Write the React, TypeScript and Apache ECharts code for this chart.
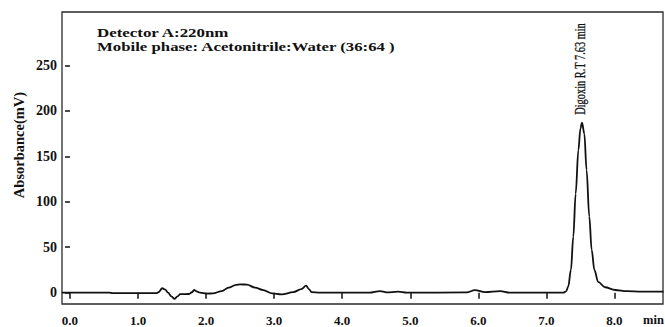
import React, { useEffect, useRef } from "react";
import * as echarts from "echarts";

// Retention time (min)
const times = [
  -0.12, 0.58, 0.62, 1.27, 1.3, 1.356, 1.4, 1.44, 1.49, 1.535, 1.58, 1.62,
  1.75, 1.79, 1.825, 1.86, 1.91, 2.01, 2.1, 2.23, 2.33, 2.44, 2.5, 2.6,
  2.72, 2.84, 2.97, 3.11, 3.28, 3.4, 3.47, 3.51, 3.55, 3.67, 4.4, 4.555,
  4.65, 4.82, 4.95, 5.83, 5.95, 6.1, 6.32, 6.46, 7.25, 7.29, 7.32, 7.36,
  7.395, 7.43, 7.47, 7.5, 7.523, 7.557, 7.59, 7.63, 7.665, 7.705, 7.76,
  7.86, 8.01, 8.18, 8.4, 8.72,
];
// Absorbance (mV)
const absorbance = [
  0, 0, -0.4, -0.4, 0.5, 4.9, 3.5, 0, -4, -6.8, -4, -1.5,
  -1.4, 0.5, 3, 1.5, 0, -1, -0.7, 1.8, 5.5, 8.7, 9.1, 9.0,
  5.5, 2.9, -0.7, -1.8, 0.6, 4, 7.7, 4, 0.6, 0, 0, 1.8,
  0.4, 1.1, 0, 0.4, 2.9, 0.7, 1.8, 0, 0, 1.5, 6.6, 25,
  61.6, 109, 157, 180.7, 187, 175, 135, 83.6, 47, 25, 12,
  6, 3, 1.8, 1.3, 1.2,
];
const xTicks = [0, 1, 2, 3, 4, 5, 6, 7, 8];
const yTicks = [0, 50, 100, 150, 200, 250];

const detectorText = "Detector A:220nm";
const phaseText = "Mobile phase: Acetonitrile:Water (36:64 )";
const peakText = "Digoxin R.T 7.63 min";
const yTitle = "Absorbance(mV)";
const xTitle = "min";

const SERIF = "'Liberation Serif', 'Times New Roman', serif";

export default function App() {
  const ref = useRef<HTMLDivElement>(null);
  useEffect(() => {
    document.body.style.margin = "0";
    if (!ref.current) return;
    const chart = echarts.init(ref.current, undefined, { renderer: "svg" });
    chart.setOption({
      animation: false,
      backgroundColor: "#ffffff",
      grid: {
        left: 62,
        top: 12,
        right: 2,
        bottom: 23,
        show: true,
        borderColor: "#2a2a2a",
        borderWidth: 1.3,
        backgroundColor: "transparent",
      },
      xAxis: {
        type: "value",
        min: -0.1175,
        max: 8.713,
        offset: 2,
        axisLine: { show: false },
        axisTick: {
          show: true,
          customValues: xTicks,
          length: 6,
          inside: false,
          lineStyle: { color: "#111", width: 1.5 },
        },
        axisLabel: {
          customValues: xTicks,
          formatter: (v: number) => v.toFixed(1),
          margin: 8,
          fontFamily: SERIF,
          fontWeight: "bold",
          fontSize: 13,
          color: "#111",
        },
        splitLine: { show: false },
      },
      yAxis: {
        type: "value",
        min: -12.4,
        max: 308.6,
        axisLine: { show: false },
        axisTick: {
          show: true,
          customValues: yTicks,
          length: 5,
          inside: false,
          lineStyle: { color: "#111", width: 1.5 },
        },
        axisLabel: {
          customValues: yTicks,
          margin: 5,
          fontFamily: SERIF,
          fontWeight: "bold",
          fontSize: 14,
          color: "#111",
        },
        splitLine: { show: false },
      },
      series: [
        {
          type: "line",
          data: times.map((t, i) => [t, absorbance[i]]),
          showSymbol: false,
          symbol: "none",
          smooth: 0.35,
          smoothMonotone: "x",
          lineStyle: { color: "#111", width: 1.8 },
          silent: true,
        },
      ],
      graphic: [
        {
          type: "text",
          x: 97,
          y: 26.5,
          scaleX: 1.3,
          style: {
            text: detectorText,
            font: `bold 13px ${SERIF}`,
            fill: "#111",
            verticalAlign: "top",
            align: "left",
          },
        },
        {
          type: "text",
          x: 97,
          y: 40,
          scaleX: 1.29,
          style: {
            text: phaseText,
            font: `bold 13px ${SERIF}`,
            fill: "#111",
            verticalAlign: "top",
            align: "left",
          },
        },
        {
          type: "text",
          x: 580,
          y: 69,
          rotation: Math.PI / 2,
          scaleX: 0.69,
          style: {
            text: peakText,
            font: `15px ${SERIF}`,
            fill: "#111",
            stroke: "#111",
            lineWidth: 0.3,
            verticalAlign: "middle",
            align: "center",
          },
        },
        {
          type: "text",
          x: 19,
          y: 145,
          rotation: Math.PI / 2,
          style: {
            text: yTitle,
            font: `bold 14.5px ${SERIF}`,
            fill: "#111",
            verticalAlign: "middle",
            align: "center",
          },
        },
        {
          type: "text",
          x: 643,
          y: 320,
          style: {
            text: xTitle,
            font: `bold 12.5px ${SERIF}`,
            fill: "#111",
            verticalAlign: "middle",
            align: "left",
          },
        },
      ],
    });
    return () => chart.dispose();
  }, []);
  return (
    <div
      ref={ref}
      style={{ position: "fixed", left: 0, top: 0, width: 665, height: 327 }}
    />
  );
}
